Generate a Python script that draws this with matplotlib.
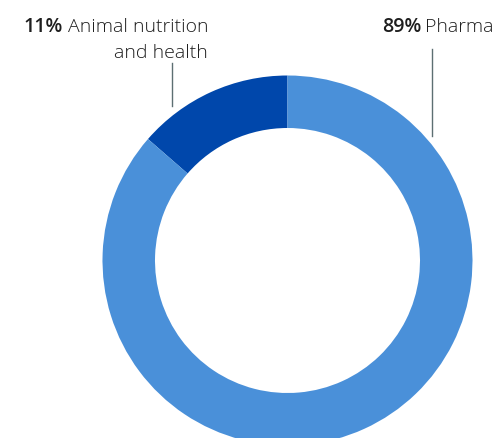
import matplotlib.pyplot as plt

# slice shares as drawn, and the printed percentages
segments = ["Animal nutrition\nand health", "Pharma"]
drawn_share = [13.6, 86.4]
pct_labels = ["11%", "89%"]
colors = ["#0047AB", "#4A90D9"]

W, H = 499, 439
fig = plt.figure(figsize=(W / 100, H / 100), dpi=100)
ax = fig.add_axes([0, 0, 1, 1])

cx, cy, R = 287.5, H - 261.5, 185
ax.pie(drawn_share, colors=colors, startangle=90, counterclock=True,
       center=(cx, cy), radius=R, frame=True,
       wedgeprops=dict(width=52.5, linewidth=0))
ax.set_xlim(0, W)
ax.set_ylim(0, H)
ax.set_aspect("equal")
ax.axis("off")

txt = "#1e1e1e"
line_col = "#5c6f72"
fam = ["Open Sans", "DejaVu Sans"]
fs = 14
renderer = fig.canvas.get_renderer()


def left_of(t, gap=5):
    bb = t.get_window_extent(renderer=renderer)
    return ax.transData.inverted().transform((bb.x0 - gap, 0))[0]


# left label
line1, line2 = segments[0].split("\n")
t1 = ax.text(208, H - 32, line1, ha="right", va="baseline", fontsize=fs,
             fontweight="light", color=txt, family=fam)
ax.text(208, H - 57.5, line2, ha="right", va="baseline", fontsize=fs,
        fontweight="light", color=txt, family=fam)
ax.text(left_of(t1), H - 32, pct_labels[0], ha="right", va="baseline",
        fontsize=fs, fontweight="semibold", color=txt, family=fam)
ax.plot([172.3, 172.3], [H - 64, H - 107], color=line_col, lw=1)

# right label
t2 = ax.text(494, H - 32, segments[1], ha="right", va="baseline",
             fontsize=fs, fontweight="light", color=txt, family=fam)
ax.text(left_of(t2, gap=4), H - 32, pct_labels[1], ha="right", va="baseline",
        fontsize=fs, fontweight="semibold", color=txt, family=fam)
ax.plot([431.7, 431.7], [H - 50, H - 137], color=line_col, lw=1)

fig.savefig("out.png", dpi=100)
